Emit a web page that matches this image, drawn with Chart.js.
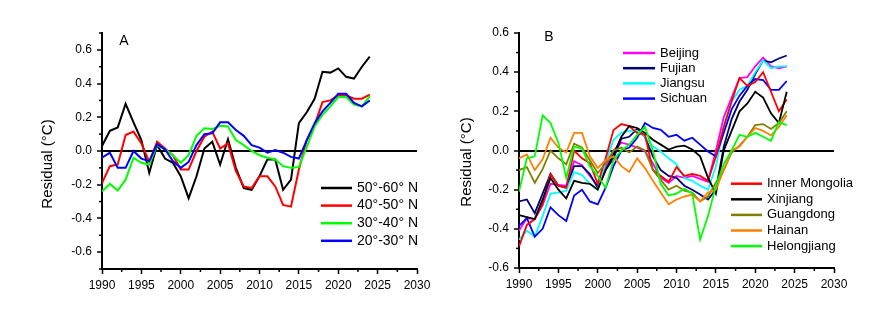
<!DOCTYPE html>
<html>
<head>
<meta charset="utf-8">
<script src="https://cdn.jsdelivr.net/npm/chart.js@4.4.0/dist/chart.umd.min.js"></script>
<style>
  html, body { margin: 0; padding: 0; background: #fff; }
  #wrap { position: relative; width: 895px; height: 313px; }
  canvas { position: absolute; top: 0; }
</style>
</head>
<body>
<div id="wrap">
  <canvas id="chartA" width="447" height="313" style="left:0"></canvas>
  <canvas id="chartB" width="448" height="313" style="left:447px"></canvas>
</div>
<script>
const years = [1990, 1991, 1992, 1993, 1994, 1995, 1996, 1997, 1998, 1999,
  2000, 2001, 2002, 2003, 2004, 2005, 2006, 2007, 2008, 2009,
  2010, 2011, 2012, 2013, 2014, 2015, 2016, 2017, 2018, 2019,
  2020, 2021, 2022, 2023, 2024]

// panel A - latitude bands
const lat50_60 = [0.03, 0.12, 0.14, 0.28, 0.17, 0.065, -0.13, 0.035, -0.045, -0.07,
  -0.15, -0.28, -0.15, 0.015, 0.055, -0.08, 0.07, -0.1, -0.22, -0.23,
  -0.15, -0.05, -0.05, -0.23, -0.17, 0.165, 0.23, 0.31, 0.47, 0.465,
  0.49, 0.44, 0.43, 0.5, 0.56]
const lat40_50 = [-0.19, -0.09, -0.08, 0.095, 0.115, 0.045, -0.065, 0.055, 0.015, -0.025,
  -0.11, -0.11, 0.0, 0.085, 0.115, 0.015, 0.045, -0.12, -0.21, -0.22,
  -0.15, -0.15, -0.21, -0.32, -0.33, -0.11, 0.065, 0.155, 0.29, 0.3,
  0.33, 0.33, 0.31, 0.31, 0.335]
const lat30_40 = [-0.24, -0.195, -0.235, -0.17, -0.04, -0.07, -0.08, 0.035, 0.01, -0.025,
  -0.07, -0.025, 0.09, 0.135, 0.13, 0.15, 0.145, 0.065, 0.035, 0.0,
  -0.025, -0.04, -0.05, -0.09, -0.1, -0.095, 0.025, 0.145, 0.215, 0.265,
  0.32, 0.32, 0.275, 0.265, 0.325]
const lat20_30 = [-0.04, -0.01, -0.1, -0.1, 0.0, -0.045, -0.06, 0.04, 0.01, -0.06,
  -0.1, -0.065, 0.035, 0.1, 0.105, 0.17, 0.17, 0.125, 0.09, 0.035,
  0.02, -0.01, 0.005, -0.01, -0.035, -0.045, 0.065, 0.165, 0.235, 0.285,
  0.34, 0.34, 0.285, 0.265, 0.3]

// panel B - provinces
const beijing = [-0.41, -0.345, -0.35, -0.28, -0.17, -0.175, -0.18, -0.055, -0.075, -0.13,
  -0.18, -0.08, 0.0, 0.04, 0.03, 0.015, -0.005, -0.065, -0.14, -0.165,
  -0.13, -0.14, -0.13, -0.145, -0.16, 0.0, 0.17, 0.27, 0.37, 0.375,
  0.43, 0.475, 0.43, 0.42, 0.43]
const fujian = [-0.26, -0.25, -0.32, -0.22, -0.12, -0.18, -0.19, -0.08, -0.08, -0.12,
  -0.19, -0.1, -0.04, 0.06, 0.07, 0.11, 0.07, -0.03, -0.1, -0.13,
  -0.14, -0.18, -0.2, -0.225, -0.25, -0.2, 0.02, 0.16, 0.25, 0.31,
  0.39, 0.46, 0.45, 0.47, 0.485]
const jiangsu = [-0.455, -0.41, -0.44, -0.335, -0.22, -0.215, -0.205, -0.11, -0.125, -0.17,
  -0.2, -0.06, 0.055, 0.09, 0.1, 0.1, 0.07, 0.02, -0.005, -0.04,
  -0.07, -0.14, -0.155, -0.18, -0.2, -0.08, 0.12, 0.25, 0.31, 0.33,
  0.4, 0.46, 0.42, 0.43, 0.43]
const sichuan = [-0.385, -0.345, -0.44, -0.4, -0.29, -0.33, -0.36, -0.23, -0.2, -0.26,
  -0.275, -0.19, -0.08, 0.0, 0.015, 0.065, 0.14, 0.115, 0.105, 0.07,
  0.08, 0.05, 0.065, 0.03, -0.005, -0.03, 0.09, 0.21, 0.28, 0.33,
  0.365, 0.36, 0.31, 0.31, 0.355]
const innerMongolia = [-0.49, -0.38, -0.35, -0.27, -0.12, -0.18, -0.19, 0.0, -0.04, -0.065,
  -0.17, -0.04, 0.105, 0.135, 0.125, 0.09, 0.08, -0.1, -0.13, -0.16,
  -0.085, -0.13, -0.12, -0.13, -0.155, -0.03, 0.12, 0.25, 0.37, 0.33,
  0.35, 0.4, 0.3, 0.2, 0.26]
const xinjiang = [-0.33, -0.34, -0.35, -0.25, -0.14, -0.2, -0.245, -0.155, -0.165, -0.17,
  -0.2, -0.1, -0.02, 0.07, 0.125, 0.115, 0.09, 0.055, 0.03, 0.005,
  0.02, 0.025, 0.005, -0.03, -0.14, -0.22, 0.0, 0.1, 0.2, 0.24,
  0.3, 0.27, 0.19, 0.14, 0.3]
const guangdong = [-0.1, -0.085, -0.165, -0.095, 0.0, -0.04, -0.07, 0.035, 0.015, -0.05,
  -0.115, -0.065, 0.0, 0.015, -0.01, 0.02, 0.0, -0.1, -0.15, -0.2,
  -0.18, -0.205, -0.215, -0.26, -0.235, -0.165, -0.1, -0.01, 0.025, 0.07,
  0.13, 0.135, 0.11, 0.14, 0.2]
const hainan = [-0.04, -0.02, -0.1, -0.045, 0.065, 0.015, -0.01, 0.09, 0.09, -0.03,
  -0.09, -0.05, -0.03, -0.08, -0.11, -0.04, -0.09, -0.155, -0.215, -0.275,
  -0.25, -0.235, -0.225, -0.26, -0.215, -0.2, -0.1, 0.0, 0.02, 0.07,
  0.115, 0.1, 0.077, 0.12, 0.18]
const helongjiang = [-0.21, -0.04, -0.03, 0.18, 0.14, 0.04, -0.14, 0.02, 0.01, -0.08,
  -0.13, -0.19, -0.05, 0.0, 0.03, 0.08, 0.12, 0.0, -0.17, -0.23,
  -0.22, -0.195, -0.22, -0.455, -0.335, -0.18, -0.07, 0.0, 0.08, 0.07,
  0.09, 0.07, 0.05, 0.145, 0.13]

// axis ticks
const ticksX = [1990, 1995, 2000, 2005, 2010, 2015, 2020, 2025, 2030]
const minorX = [1992.5, 1997.5, 2002.5, 2007.5, 2012.5, 2017.5, 2022.5, 2027.5]
const ticksYA = [-0.6, -0.4, -0.2, 0, 0.2, 0.4, 0.6]
const minorYA = [-0.7, -0.5, -0.3, -0.1, 0.1, 0.3, 0.5, 0.7]
const ticksYB = [-0.6, -0.4, -0.2, 0, 0.2, 0.4, 0.6]
const minorYB = [-0.5, -0.3, -0.1, 0.1, 0.3, 0.5]

const FONT = "'Liberation Sans', Arial, sans-serif"
Chart.defaults.font.family = FONT
Chart.defaults.color = '#000'

function serie(label, values, color, width) {
    return {
        label: label,
        data: years.map((yr, i) => ({ x: yr, y: values[i] })),
        borderColor: color,
        backgroundColor: color,
        borderWidth: width,
        pointRadius: 0,
        tension: 0,
        fill: false
    }
}

// minor ticks, y title, panel letter and legend
const extras = {
    id: 'extras',
    afterDraw(chart, args, o) {
        const ctx = chart.ctx
        const sx = chart.scales.x
        const sy = chart.scales.y
        const area = chart.chartArea
        ctx.save()
        ctx.strokeStyle = '#000'
        ctx.lineWidth = 1.5
        o.minorY.forEach(v => {
            const py = sy.getPixelForValue(v)
            ctx.beginPath(); ctx.moveTo(area.left - 3, py); ctx.lineTo(area.left, py); ctx.stroke()
        })
        o.minorX.forEach(v => {
            const px = sx.getPixelForValue(v)
            ctx.beginPath(); ctx.moveTo(px, area.bottom); ctx.lineTo(px, area.bottom + 3); ctx.stroke()
        })

        ctx.fillStyle = '#000'
        ctx.textAlign = 'center'
        ctx.textBaseline = 'middle'
        ctx.font = '15px ' + FONT
        ctx.save()
        ctx.translate(o.titleX, o.titleY)
        ctx.rotate(-Math.PI / 2)
        ctx.fillText('Residual (°C)', 0, 0)
        ctx.restore()

        ctx.font = '14px ' + FONT
        ctx.fillText(o.letter, o.letterX, o.letterY)

        ctx.textAlign = 'left'
        o.legends.forEach(lg => {
            ctx.font = lg.size + 'px ' + FONT
            lg.items.forEach((it, i) => {
                const yy = lg.y + i * lg.step
                ctx.strokeStyle = it.color
                ctx.lineWidth = 2.5
                ctx.beginPath(); ctx.moveTo(lg.x, yy); ctx.lineTo(lg.x + lg.len, yy); ctx.stroke()
                ctx.fillStyle = '#000'
                ctx.fillText(it.label, lg.x + lg.len + 5, yy)
            })
        })
        ctx.restore()
    }
}

function scalesFor(yMin, yMax, yTicks, yWidth, xHeight) {
    return {
        x: {
            type: 'linear', min: 1990, max: 2030,
            afterBuildTicks: s => { s.ticks = ticksX.map(v => ({ value: v })) },
            afterFit: s => { s.height = xHeight },
            grid: { drawOnChartArea: false, tickLength: 5, tickColor: '#000', tickWidth: 1.5 },
            border: { color: '#000', width: 2 },
            ticks: { color: '#000', font: { size: 12 }, padding: 4, maxRotation: 0, autoSkip: false, callback: v => String(v) }
        },
        y: {
            type: 'linear', min: yMin, max: yMax, z: 1,
            afterBuildTicks: s => { s.ticks = yTicks.map(v => ({ value: v })) },
            afterFit: s => { s.width = yWidth },
            grid: {
                color: c => (c.tick && c.tick.value === 0) ? '#000' : 'rgba(0,0,0,0)',
                lineWidth: 2, tickLength: 5, tickColor: '#000', tickWidth: 1.5
            },
            border: { color: '#000', width: 2 },
            ticks: { color: '#000', font: { size: 12 }, padding: 5, autoSkip: false,
                callback: v => (Math.abs(v) < 1e-9 ? 0 : v).toFixed(1) }
        }
    }
}

function orderUp(list) {
    list.forEach((d, i) => { d.order = list.length - i })
    return list
}

const dsA = orderUp([
    serie('50°-60° N', lat50_60, '#000000', 2),
    serie('40°-50° N', lat40_50, '#ff0000', 2),
    serie('30°-40° N', lat30_40, '#00ff00', 2),
    serie('20°-30° N', lat20_30, '#0000ff', 2)
])

new Chart(document.getElementById('chartA'), {
    type: 'line',
    data: { datasets: dsA },
    options: {
        responsive: false, animation: false, devicePixelRatio: 1,
        layout: { autoPadding: false, padding: { left: 0, top: 33, right: 30, bottom: 0 } },
        plugins: {
            legend: { display: false }, tooltip: { enabled: false },
            extras: {
                minorX: minorX, minorY: minorYA,
                titleX: 48, titleY: 164,
                letter: 'A', letterX: 124, letterY: 41,
                legends: [{
                    x: 321, y: 188, step: 17.6, len: 31, size: 14,
                    items: dsA.map(d => ({ label: d.label, color: d.borderColor }))
                }]
            }
        },
        scales: scalesFor(-0.7, 0.7, ticksYA, 102, 44)
    },
    plugins: [extras]
})

const dsB = orderUp([
    serie('Beijing', beijing, '#ff00ff', 1.8),
    serie('Fujian', fujian, '#000080', 1.8),
    serie('Jiangsu', jiangsu, '#00ffff', 1.8),
    serie('Sichuan', sichuan, '#0000ff', 1.8),
    serie('Inner Mongolia', innerMongolia, '#ff0000', 1.8),
    serie('Xinjiang', xinjiang, '#000000', 1.8),
    serie('Guangdong', guangdong, '#808000', 1.8),
    serie('Hainan', hainan, '#ff8000', 1.8),
    serie('Helongjiang', helongjiang, '#00ff00', 1.8)
])

new Chart(document.getElementById('chartB'), {
    type: 'line',
    data: { datasets: dsB },
    options: {
        responsive: false, animation: false, devicePixelRatio: 1,
        layout: { autoPadding: false, padding: { left: 0, top: 33, right: 61, bottom: 0 } },
        plugins: {
            legend: { display: false }, tooltip: { enabled: false },
            extras: {
                minorX: minorX, minorY: minorYB,
                titleX: 20, titleY: 162,
                letter: 'B', letterX: 102, letterY: 37,
                legends: [
                    { x: 176, y: 53, step: 15.2, len: 32, size: 13,
                      items: dsB.slice(0, 4).map(d => ({ label: d.label, color: d.borderColor })) },
                    { x: 284, y: 183.7, step: 15.6, len: 31, size: 13,
                      items: dsB.slice(4).map(d => ({ label: d.label, color: d.borderColor })) }
                ]
            }
        },
        scales: scalesFor(-0.6, 0.6, ticksYB, 72, 45)
    },
    plugins: [extras]
})
</script>
</body>
</html>
